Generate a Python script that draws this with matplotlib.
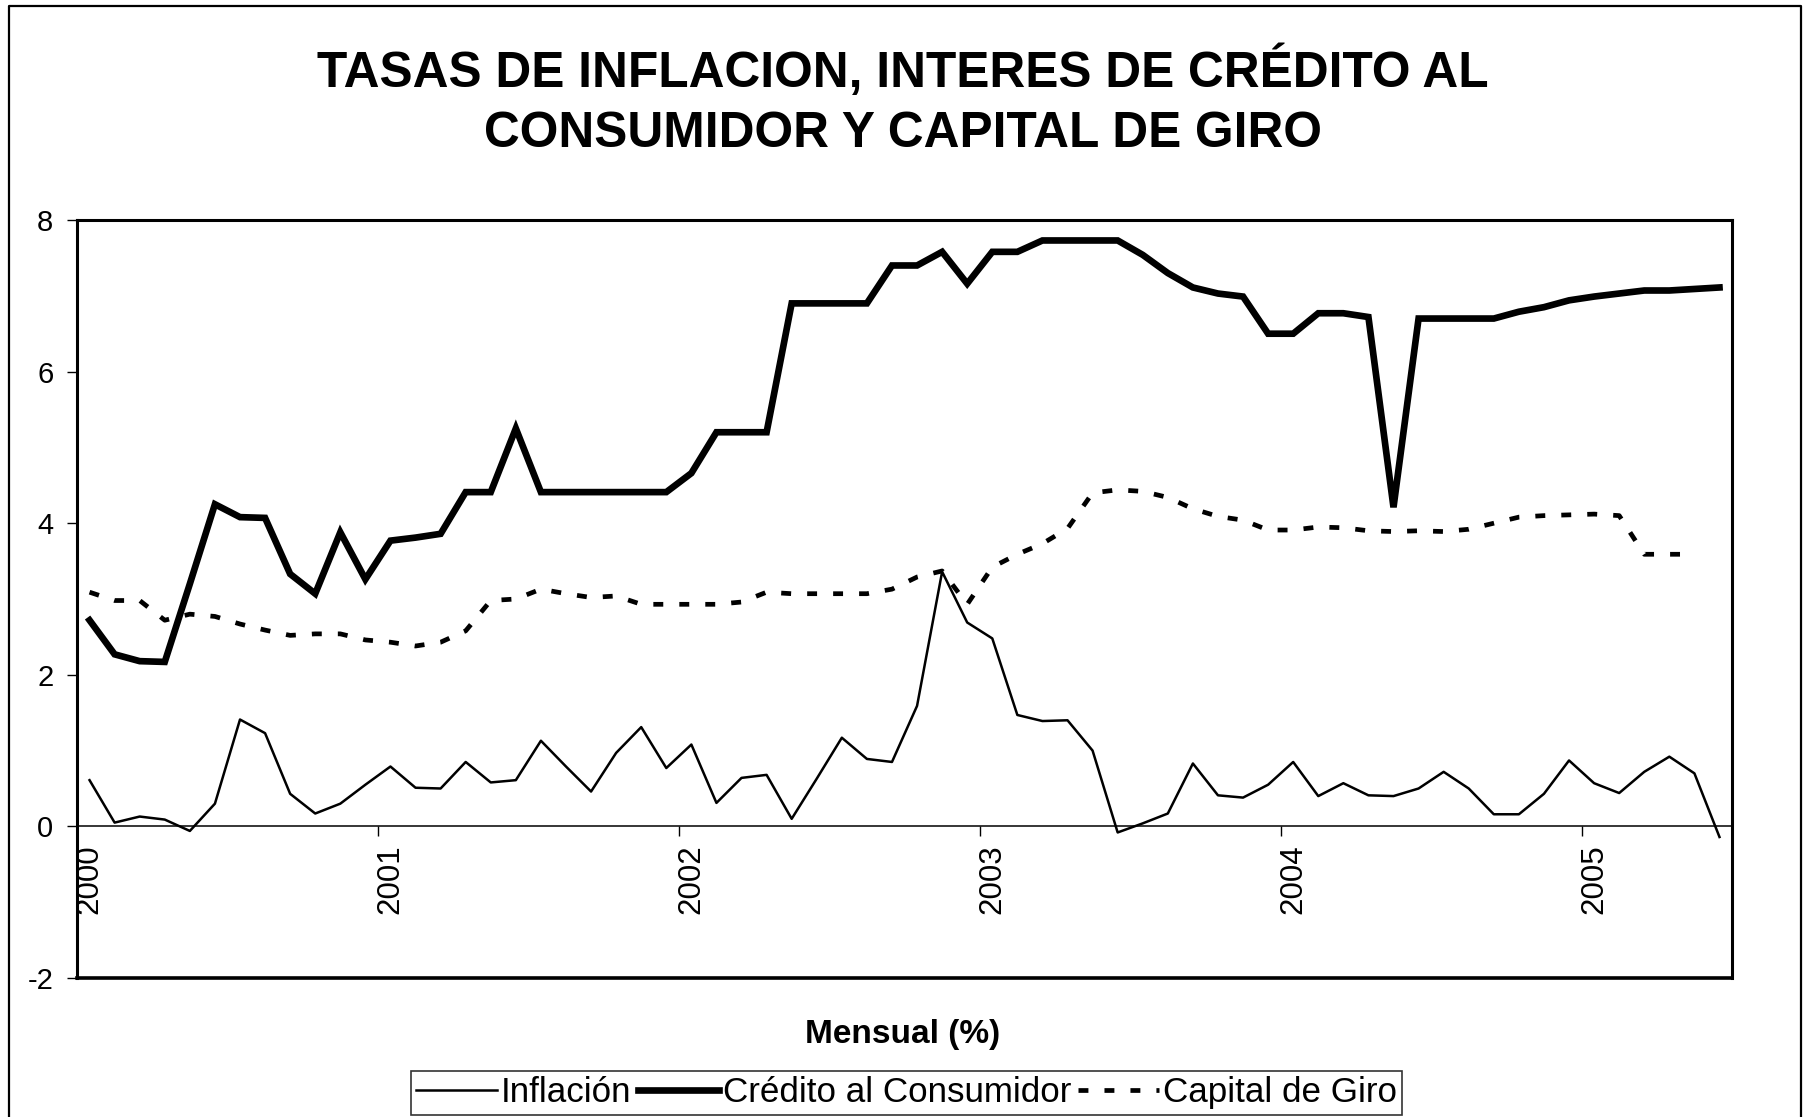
import matplotlib
matplotlib.use("Agg")
import matplotlib.pyplot as plt
import numpy as np

plt.rcParams['font.family'] = ['Liberation Sans', 'DejaVu Sans']
plt.rcParams['axes.unicode_minus'] = False

# monthly data, Jan 2000 - Jun 2005
years = ['2000', '2001', '2002', '2003', '2004', '2005']
inflacion = [0.61, 0.05, 0.13, 0.09, -0.06, 0.30, 1.41, 1.23, 0.43, 0.17,
             0.30, 0.55, 0.79, 0.51, 0.50, 0.85, 0.58, 0.61, 1.13, 0.79,
             0.46, 0.97, 1.31, 0.77, 1.08, 0.31, 0.64, 0.68, 0.10, 0.63,
             1.17, 0.89, 0.85, 1.59, 3.36, 2.69, 2.48, 1.47, 1.39, 1.40,
             1.00, -0.08, 0.04, 0.17, 0.83, 0.41, 0.38, 0.55, 0.85, 0.40,
             0.57, 0.41, 0.40, 0.50, 0.72, 0.50, 0.16, 0.16, 0.43, 0.87,
             0.57, 0.44, 0.72, 0.92, 0.70, -0.14]
credito = [2.72, 2.27, 2.18, 2.17, 3.20, 4.25, 4.08, 4.07, 3.33, 3.07,
           3.88, 3.26, 3.77, 3.81, 3.86, 4.41, 4.41, 5.25, 4.41, 4.41,
           4.41, 4.41, 4.41, 4.41, 4.66, 5.20, 5.20, 5.20, 6.90, 6.90,
           6.90, 6.90, 7.40, 7.40, 7.58, 7.16, 7.58, 7.58, 7.73, 7.73,
           7.73, 7.73, 7.54, 7.30, 7.11, 7.03, 6.99, 6.50, 6.50, 6.77,
           6.77, 6.72, 4.21, 6.70, 6.70, 6.70, 6.70, 6.79, 6.85, 6.94,
           6.99, 7.03, 7.07, 7.07, 7.09, 7.11]
capital = [3.09, 2.98, 2.98, 2.72, 2.80, 2.77, 2.67, 2.59, 2.52, 2.54,
           2.54, 2.46, 2.43, 2.38, 2.43, 2.58, 2.98, 3.00, 3.13, 3.07,
           3.02, 3.04, 2.93, 2.93, 2.93, 2.93, 2.96, 3.09, 3.07, 3.07,
           3.07, 3.07, 3.13, 3.29, 3.37, 2.93, 3.42, 3.59, 3.73, 3.93,
           4.40, 4.44, 4.42, 4.34, 4.19, 4.09, 4.04, 3.91, 3.91, 3.95,
           3.94, 3.90, 3.89, 3.90, 3.89, 3.92, 4.00, 4.08, 4.10, 4.11,
           4.12, 4.10, 3.59, 3.59, 3.59, np.nan]

x = np.arange(len(inflacion))

fig = plt.figure(figsize=(18.06, 11.17), dpi=100)
ax = fig.add_axes([0.04264, 0.12444, 0.9164, 0.6786])

l1, = ax.plot(x, inflacion, color='black', lw=1.8, label='Inflación')
l2, = ax.plot(x, credito, color='black', lw=4.8, label='Crédito al Consumidor',
              solid_joinstyle='miter')
l3, = ax.plot(x, capital, color='black', lw=3.4, label='Capital de Giro',
              dashes=(2.1, 3.4))

ax.set_xlim(-0.5, 65.5)
ax.set_ylim(-2, 8)
ax.set_yticks([-2, 0, 2, 4, 6, 8])
ax.tick_params(axis='y', length=7, width=1, pad=10, labelsize=21)

# x axis crosses at zero, frame drawn separately
ax.spines['bottom'].set_position(('data', 0))
ax.spines['bottom'].set_linewidth(1.1)
for s in ['left', 'right', 'top']:
    ax.spines[s].set_linewidth(2.2)
ax.plot([0, 1], [0, 0], transform=ax.transAxes, color='black', lw=2.6,
        clip_on=False)

ax.set_xticks(np.arange(0, 66, 12))
ax.set_xticklabels(years, rotation=90, fontsize=22.5)
ax.set_xticks(np.arange(11.5, 66, 12), minor=True)
ax.tick_params(axis='x', which='major', length=0, pad=13)
ax.tick_params(axis='x', which='minor', length=7, width=1, direction='out')

fig.text(0.5, 0.9364, 'TASAS DE INFLACION, INTERES DE CRÉDITO AL',
         ha='center', va='center', fontsize=35.7, fontweight='bold')
fig.text(0.5, 0.880, 'CONSUMIDOR Y CAPITAL DE GIRO',
         ha='center', va='center', fontsize=35.7, fontweight='bold')
fig.text(0.4995, 0.0735, 'Mensual (%)', ha='center', va='center',
         fontsize=24, fontweight='bold')

leg = fig.legend(handles=[l1, l2, l3], loc='center',
                 bbox_to_anchor=(0.502, 0.0215), ncol=3, fontsize=25.2,
                 frameon=True, fancybox=False, edgecolor='black',
                 handlelength=2.3, handletextpad=0.12, columnspacing=0.2,
                 borderpad=0.15, borderaxespad=0)
leg.get_frame().set_linewidth(1.2)

# outer chart border
fig.add_artist(plt.Line2D([9 / 1806, 9 / 1806, 1801 / 1806, 1801 / 1806],
                          [0, 1 - 6 / 1117, 1 - 6 / 1117, 0],
                          transform=fig.transFigure, color='black', lw=1.6))

fig.savefig('out.png', dpi=100)
